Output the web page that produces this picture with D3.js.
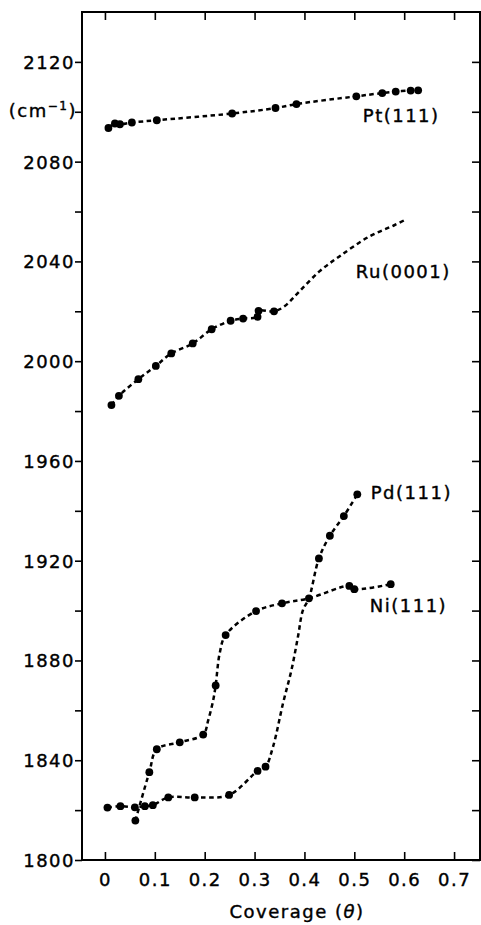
<!DOCTYPE html>
<html>
<head>
<meta charset="utf-8">
<script src="https://cdn.jsdelivr.net/npm/d3@7"></script>
<style>
  body { margin: 0; background: #fff; }
  svg { display: block; }
  .tick text { font-family: "DejaVu Sans", sans-serif; font-size: 18px; letter-spacing: 1.5px; fill: #000; stroke: #000; stroke-width: 0.4px; }
  .tick line { stroke: #000; stroke-width: 1.6; }
  .lbl { font-family: "DejaVu Sans", sans-serif; font-size: 18px; letter-spacing: 1.5px; fill: #000; stroke: #000; stroke-width: 0.4px; }
</style>
</head>
<body>
<div class="chart"></div>
<script>
const ptPoints = [[0.007, 2093.5], [0.020, 2095.3], [0.030, 2095.0], [0.054, 2095.7], [0.104, 2096.6],
  [0.255, 2099.3], [0.342, 2101.5], [0.384, 2103.1], [0.504, 2106.2], [0.556, 2107.5],
  [0.583, 2108.1], [0.613, 2108.5], [0.628, 2108.6]];
const ruPoints = [[0.013, 1982.4], [0.028, 1986.1], [0.067, 1992.8], [0.102, 1998.1], [0.133, 2003.1],
  [0.176, 2007.1], [0.214, 2012.8], [0.252, 2016.2], [0.277, 2017.1], [0.306, 2017.8],
  [0.308, 2020.2], [0.339, 2020.0]];
const pdPoints = [[0.005, 1821.0], [0.031, 1821.6], [0.060, 1821.1], [0.080, 1821.6], [0.096, 1822.0],
  [0.127, 1825.1], [0.180, 1825.1], [0.249, 1826.1], [0.306, 1835.7], [0.322, 1837.4],
  [0.429, 1920.9], [0.451, 1930.0], [0.479, 1937.9], [0.506, 1946.6]];
const niPoints = [[0.061, 1815.8], [0.089, 1835.2], [0.104, 1844.4], [0.150, 1847.2], [0.197, 1850.3],
  [0.222, 1870.0], [0.242, 1890.2], [0.303, 1899.8], [0.355, 1902.9], [0.409, 1904.9],
  [0.490, 1909.9], [0.500, 1908.6], [0.573, 1910.6]];

// extra spots the dashed guide lines go through (no dots there)
const ruTrend = [[0.36, 2022], [0.39, 2028], [0.43, 2036], [0.47, 2042], [0.53, 2050], [0.58, 2054.5], [0.605, 2057]];
const pdTrend = [[0.337, 1845.4], [0.357, 1862.8], [0.374, 1876.2], [0.387, 1889.5], [0.397, 1900.2], [0.409, 1904.9]];
const niTrend = [[0.207, 1856], [0.217, 1864], [0.230, 1882.8]];

const seriesNames = ["Pt(111)", "Ru(0001)", "Pd(111)", "Ni(111)"];
// where each name sits (start of text, baseline)
const labelPos = [[0.517, 2095.8], [0.503, 2033.3], [0.533, 1944.7], [0.531, 1899.4]];
const xTicks = [0, 0.1, 0.2, 0.3, 0.4, 0.5, 0.6, 0.7];
const yTicks = d3.range(1800, 2140, 20);
const yLabels = [1800, 1840, 1880, 1920, 1960, 2000, 2040, 2080, 2120];

const margin = { top: 12, right: 1, bottom: 65, left: 82 };
const width = 481 - margin.left - margin.right,
  height = 925 - margin.top - margin.bottom;

const x = d3.scaleLinear().domain([-0.046, 0.752]).range([0, width]);
const y = d3.scaleLinear().domain([1800, 2140]).range([height, 0]);

const svg = d3.select(".chart").append("svg")
  .attr("width", 481).attr("height", 925)
  .append("g")
  .attr("transform", "translate(" + margin.left + "," + margin.top + ")");

// axes - left ticks stick out, the other three point in
svg.append("g")
  .call(d3.axisLeft(y).tickValues(yTicks).tickSize(7)
    .tickFormat(d => yLabels.includes(d) ? d : ""))
  .call(g => g.select(".domain").remove())
  .call(g => g.selectAll("text").attr("x", -7).attr("dy", "0.36em"));

svg.append("g")
  .attr("transform", "translate(" + width + ",0)")
  .call(d3.axisRight(y).tickValues(yTicks).tickSize(-8).tickFormat(""))
  .call(g => g.select(".domain").remove());

svg.append("g")
  .attr("transform", "translate(0," + height + ")")
  .call(d3.axisBottom(x).tickValues(xTicks).tickSize(-8)
    .tickFormat(d => d === 0 ? "0" : d.toFixed(1)))
  .call(g => g.select(".domain").remove())
  .call(g => g.selectAll("text").attr("y", 26).attr("dy", 0));

svg.append("g")
  .call(d3.axisTop(x).tickValues(xTicks).tickSize(-8).tickFormat(""))
  .call(g => g.select(".domain").remove());

// frame
svg.append("rect")
  .attr("x", 0).attr("y", 0)
  .attr("width", width).attr("height", height)
  .attr("fill", "none").attr("stroke", "#000").attr("stroke-width", 2);

const line = d3.line()
  .x(d => x(d[0]))
  .y(d => y(d[1]))
  .curve(d3.curveCatmullRom.alpha(0.5));

const series = [
  { name: seriesNames[0], pts: ptPoints, trend: [] },
  { name: seriesNames[1], pts: ruPoints, trend: ruTrend },
  { name: seriesNames[2], pts: pdPoints, trend: pdTrend },
  { name: seriesNames[3], pts: niPoints, trend: niTrend }
];

series.forEach(s => {
  const path = s.pts.concat(s.trend).sort((a, b) => a[0] - b[0]);
  svg.append("path")
    .datum(path)
    .attr("fill", "none")
    .attr("stroke", "#000")
    .attr("stroke-width", 2.5)
    .attr("stroke-dasharray", "4.5,3.5")
    .attr("d", line);

  svg.append("g")
    .selectAll("circle")
    .data(s.pts)
    .join("circle")
    .attr("cx", d => x(d[0]))
    .attr("cy", d => y(d[1]))
    .attr("r", 3.9)
    .attr("fill", "#000");
});

// series labels, placed next to the curve ends
svg.append("g")
  .selectAll("text")
  .data(series)
  .join("text")
  .attr("class", "lbl")
  .attr("x", (d, i) => x(labelPos[i][0]))
  .attr("y", (d, i) => y(labelPos[i][1]))
  .text(d => d.name);

// units next to the 2100 tick
const unit = svg.append("text")
  .attr("class", "lbl")
  .attr("text-anchor", "end")
  .attr("x", -5)
  .attr("y", y(2100) + 5);
unit.append("tspan").text("(cm");
unit.append("tspan").attr("dy", -7).attr("font-size", 12).text("−1");
unit.append("tspan").attr("dy", 7).text(")");

// x title
const xt = svg.append("text")
  .attr("class", "lbl")
  .attr("text-anchor", "middle")
  .attr("x", 297 - margin.left)
  .attr("y", height + 58);
xt.append("tspan").text("Coverage  (");
xt.append("tspan").attr("font-style", "italic").text("θ");
xt.append("tspan").text(")");
</script>
</body>
</html>
